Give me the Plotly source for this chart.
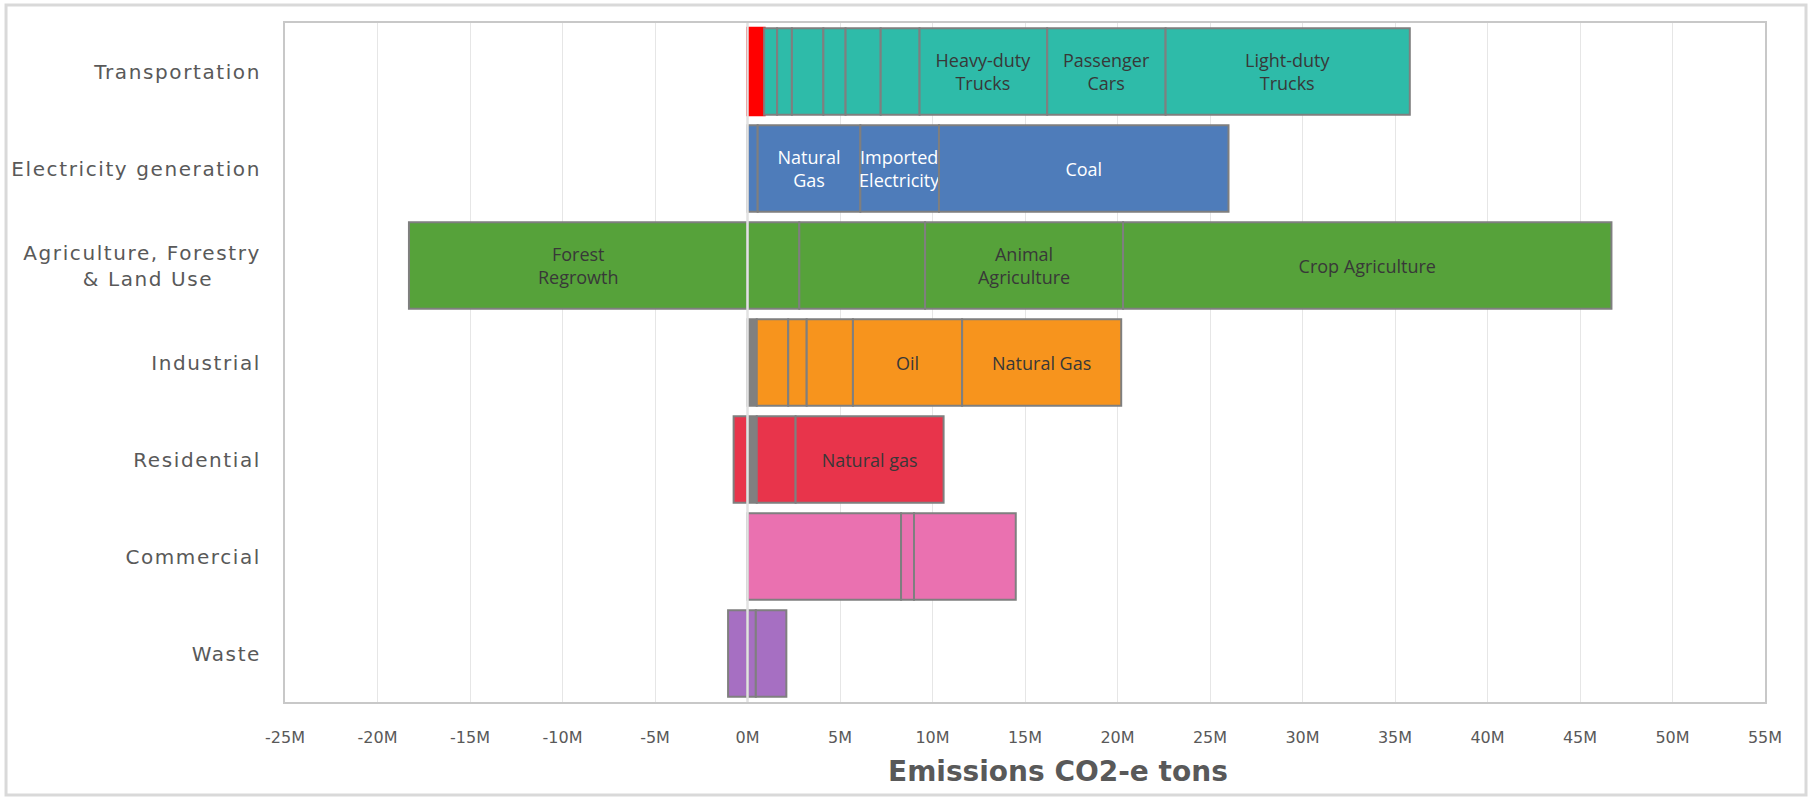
import plotly.graph_objects as go

# Sector rows, top to bottom
categories = [
    "Transportation",
    "Electricity generation",
    "Agriculture, Forestry<br>& Land Use" + "\u00a0" * 6,
    "Industrial",
    "Residential",
    "Commercial",
    "Waste",
]

# Emissions by source within each sector (million tons CO2-e), left to right
transportation = [0.9, 0.7, 0.8, 1.7, 1.2, 1.9, 2.1, 6.9, 6.4, 13.2]
transportation_labels = ["", "", "", "", "", "", "", "Heavy-duty<br>Trucks",
                         "Passenger<br>Cars", "Light-duty<br>Trucks"]

electricity = [0.55, 5.55, 4.25, 15.65]
electricity_labels = ["", "Natural<br>Gas", "Imported<br>Electricity", "Coal"]

agriculture = [-18.3, 2.8, 6.8, 10.7, 26.4]
agriculture_labels = ["Forest<br>Regrowth", "", "", "Animal<br>Agriculture",
                      "Crop Agriculture"]

industrial = [0.5, 1.7, 1.0, 2.5, 5.9, 8.6]
industrial_labels = ["", "", "", "", "Oil", "Natural Gas"]

residential = [-0.75, 0.5, 2.1, 8.0]
residential_labels = ["", "", "", "Natural gas"]

commercial = [8.3, 0.7, 5.5]
commercial_labels = ["", "", ""]

waste = [-1.05, 0.45, 1.65]
waste_labels = ["", "", ""]

# X axis ticks
tick_values = [-25, -20, -15, -10, -5, 0, 5, 10, 15, 20, 25, 30, 35, 40, 45, 50, 55]
tick_labels = ["-25M", "-20M", "-15M", "-10M", "-5M", "0M", "5M", "10M", "15M",
               "20M", "25M", "30M", "35M", "40M", "45M", "50M", "55M"]

# Styling per sector
sector_fill = ["#2EBBA9", "#4E7CBA", "#56A23A", "#F7941D", "#E8344B", "#EA71B0", "#A66FC2"]
sector_text = ["#383838", "#FFFFFF", "#383838", "#383838", "#383838", "#383838", "#383838"]
# individual segments drawn with a different fill: (sector index, segment index) -> colour
segment_fill_override = {(0, 0): "#FF0000", (3, 0): "#808080", (4, 1): "#808080"}

sector_values = [transportation, electricity, agriculture, industrial,
                 residential, commercial, waste]
sector_labels = [transportation_labels, electricity_labels, agriculture_labels,
                 industrial_labels, residential_labels, commercial_labels, waste_labels]

EDGE = "#7F7F7F"

fig = go.Figure()
for ci, (cat, vals, labs) in enumerate(zip(categories, sector_values, sector_labels)):
    for si, (v, lab) in enumerate(zip(vals, labs)):
        fill = segment_fill_override.get((ci, si), sector_fill[ci])
        edge = "#FF0000" if fill == "#FF0000" else EDGE
        width = 3 if fill == "#FF0000" else 2
        fig.add_trace(go.Bar(
            y=[cat], x=[v], orientation="h",
            marker=dict(color=fill, line=dict(color=edge, width=width)),
            text=[lab], textposition="inside", insidetextanchor="middle",
            textangle=0, constraintext="none",
            textfont=dict(family="Open Sans", size=18, color=sector_text[ci]),
            hoverinfo="skip", showlegend=False,
        ))

# Zero reference line sits above the bars
fig.add_shape(type="line", xref="x", yref="paper", x0=0, x1=0, y0=0, y1=1,
              line=dict(color="#E2E2E2", width=2.5), layer="above")

# Light frame around the whole chart
fig.add_shape(type="rect", xref="paper", yref="paper",
              x0=-0.1885, x1=1.0277, y0=-0.137, y1=1.0265,
              line=dict(color="#D9D9D9", width=3), layer="below")

fig.add_annotation(text="<b>Emissions CO2-e tons</b>", xref="paper", yref="paper",
                   x=0.522, y=-0.103, xanchor="center", yanchor="middle",
                   showarrow=False,
                   font=dict(family="DejaVu Sans", size=28, color="#595959"))

fig.update_layout(
    width=1813, height=797,
    margin=dict(l=285, r=48, t=23, b=95),
    paper_bgcolor="white", plot_bgcolor="white",
    barmode="relative", bargap=0.11,
    uniformtext=dict(minsize=18, mode="show"),
    xaxis=dict(
        range=[-25, 55], tickvals=tick_values, ticktext=tick_labels,
        showgrid=True, gridcolor="#E6E6E6", gridwidth=1, zeroline=False,
        showline=True, mirror=True, linecolor="#C8C8C8", linewidth=2,
        ticks="", ticklabelstandoff=20,
        tickfont=dict(family="DejaVu Sans", size=16, color="#595959"),
    ),
    yaxis=dict(
        autorange="reversed", showgrid=False, zeroline=False,
        showline=True, mirror=True, linecolor="#C8C8C8", linewidth=2,
        ticks="", ticklabelstandoff=18,
        tickfont=dict(family="DejaVu Sans", size=20, color="#595959"),
    ),
)

# Wider tracking on the sector names
spacing_js = """
var gd = document.getElementById('{plot_id}');
function spreadLabels() {
  gd.querySelectorAll('.ytick text').forEach(function (t) {
    t.style.letterSpacing = '1.6px';
  });
}
spreadLabels();
gd.on('plotly_afterplot', spreadLabels);
"""

fig.write_html("out.html", post_script=spacing_js)
